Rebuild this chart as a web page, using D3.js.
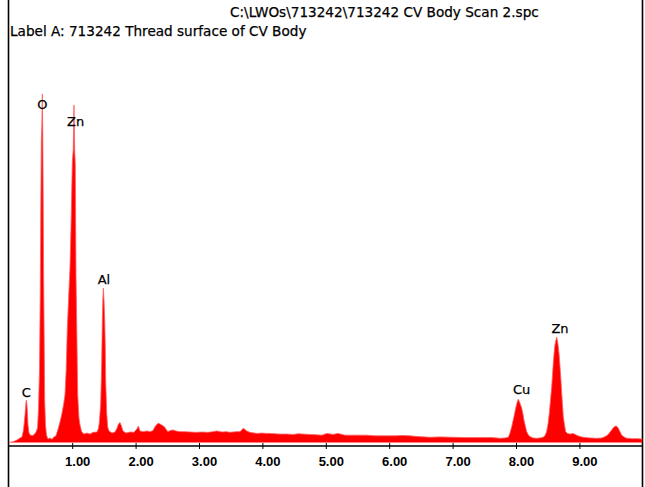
<!DOCTYPE html>
<html>
<head>
<meta charset="utf-8">
<script src="https://cdn.jsdelivr.net/npm/d3@7"></script>
<style>
html,body{margin:0;padding:0;background:#fff;}
svg{display:block;}
</style>
</head>
<body>
<svg id="chart" width="645" height="487"></svg>
<script>
const titleText = "C:\\LWOs\\713242\\713242 CV Body Scan 2.spc";
const labelText = "Label A: 713242 Thread surface of CV Body";

const tickValues = [1, 2, 3, 4, 5, 6, 7, 8, 9];
const tickLabels = ["1.00", "2.00", "3.00", "4.00", "5.00", "6.00", "7.00", "8.00", "9.00"];

// energy (keV)
const energy = [0,0.066,0.129,0.177,0.208,0.232,0.256,0.271,0.279,0.292,0.303,0.319,0.342,0.382,0.405,0.421,
0.429,0.453,0.468,0.484,0.497,0.505,0.513,0.521,0.529,0.536,0.543,0.549,0.557,0.566,0.579,0.595,0.618,0.650,0.681,0.713,0.744,
0.781,0.808,0.834,0.863,0.886,0.905,0.923,0.942,0.965,0.981,1.002,1.016,1.028,1.039,1.049,1.060,1.071,1.087,1.107,1.123,1.150,1.186,1.233,1.281,1.328,
1.391,1.415,1.427,1.450,1.465,1.475,1.483,1.491,1.502,1.513,1.522,1.528,1.544,1.560,1.580,1.628,1.675,1.707,1.730,1.754,1.777,1.801,1.849,1.912,1.975,2.022,2.043,2.069,
2.117,2.180,2.227,2.274,2.306,2.330,2.358,2.385,2.412,2.437,2.464,2.487,2.511,2.543,2.590,2.637,2.700,2.779,2.858,2.964,3.047,3.142,3.221,3.279,3.363,3.426,3.489,3.584,3.647,3.699,3.753,3.804,3.910,3.994,
4.057,4.120,4.199,4.278,4.383,4.483,4.562,4.645,4.751,4.857,4.940,5.019,5.114,5.192,5.303,5.429,5.539,5.650,5.776,5.960,6.091,6.202,6.328,6.454,6.644,6.801,7.006,7.196,7.432,7.621,7.748,7.826,
7.879,7.905,7.932,7.968,8.000,8.020,8.036,8.063,8.090,8.110,8.126,8.147,8.169,8.197,8.221,8.268,8.325,8.378,8.430,
8.457,8.483,8.505,8.525,8.544,8.563,8.576,8.588,8.603,8.615,8.631,8.642,8.655,8.667,8.681,8.694,8.710,8.721,8.734,8.746,8.765,8.784,8.813,8.852,8.899,8.957,9.009,9.061,9.167,9.273,9.356,
9.430,9.467,9.509,9.538,9.573,9.593,9.614,9.640,9.667,9.703,9.746,9.830,9.909,9.993];

// counts (arbitrary units)
const counts = [0,2,7,13,16,36,79,116,121,93,50,27,21,20,24,27,
30,41,93,207,436,679,864,907,996,884,693,487,321,121,50,21,10,13,9,16,19,
41,59,79,107,136,207,327,407,499,613,801,836,964,836,793,479,344,136,70,50,30,24,27,24,29,
30,41,56,113,227,350,407,441,407,350,273,179,84,44,33,27,30,41,53,57,47,33,27,30,29,39,47,33,
31,33,31,34,45,51,55,53,50,47,43,36,31,34,36,33,31,31,30,29,30,29,31,33,30,31,29,31,31,41,33,29,26,27,
26,26,25,24,24,23,25,24,23,22,21,26,23,26,21,21,21,21,19,19,19,20,19,17,15,16,15,14,14,14,12,13,
15,27,45,74,102,116,124,112,98,81,64,47,31,21,17,13,12,13,15,
20,31,53,83,121,159,193,226,259,279,293,301,290,274,250,217,176,141,107,74,50,31,26,24,26,21,17,15,13,12,13,
19,26,36,43,47,46,41,31,21,16,12,11,11,10];

const peakLabels = ["C", "O", "Zn", "Al", "Cu", "Zn"];
const peakEnergy = [0.276, 0.528, 1.055, 1.501, 8.09, 8.694];
const peakCounts = [131, 954, 905, 454, 139, 313];

const svg = d3.select("#chart");
const x = d3.scaleLinear().domain([0, 10]).range([8.8, 642.8]);
const y = d3.scaleLinear().domain([0, 1000]).range([442.5, 92.5]);

// frame
svg.append("line").attr("x1", 8.5).attr("x2", 8.5).attr("y1", 0).attr("y2", 487)
  .attr("stroke", "#000").attr("stroke-width", 1.6);
svg.append("line").attr("x1", 642.5).attr("x2", 642.5).attr("y1", 0).attr("y2", 487)
  .attr("stroke", "#000").attr("stroke-width", 1.6);

// title texts
svg.append("text").attr("x", 230).attr("y", 17)
  .attr("font-family", "DejaVu Sans, sans-serif").attr("font-size", 13.6)
  .attr("fill", "#000").attr("stroke", "#000").attr("stroke-width", 0.25).text(titleText);
svg.append("text").attr("x", 10).attr("y", 36)
  .attr("font-family", "DejaVu Sans, sans-serif").attr("font-size", 13.6)
  .attr("fill", "#000").attr("stroke", "#000").attr("stroke-width", 0.25).text(labelText);

// spectrum
const data = energy.map((e, i) => ({e: e, c: counts[i]}));
const area = d3.area().x(d => x(d.e)).y0(y(0)).y1(d => y(d.c)).curve(d3.curveLinear);
svg.append("path").datum(data).attr("d", area).attr("fill", "#ff0000");
const line = d3.line().x(d => x(d.e)).y(d => y(d.c));
svg.append("path").datum(data).attr("d", line).attr("fill", "none")
  .attr("stroke", "#ff6060").attr("stroke-width", 0.8);

// axis
const axis = d3.axisBottom(x).tickValues(tickValues).tickSize(0).tickFormat((d, i) => tickLabels[i]);
const g = svg.append("g").attr("transform", "translate(0,446)").call(axis);
g.select(".domain").remove();
g.append("line").attr("x1", 8.5).attr("x2", 642.5).attr("y1", 0).attr("y2", 0)
  .attr("stroke", "#000").attr("stroke-width", 1.5);
g.selectAll(".tick").append("line").attr("y1", -3).attr("y2", 3).attr("stroke", "#000").attr("stroke-width", 1);
g.selectAll(".tick text")
  .attr("font-family", "Liberation Sans Narrow, Liberation Sans, Arial, sans-serif")
  .attr("font-weight", "bold").attr("font-size", 13).attr("fill", "#000")
  .attr("dx", 5).attr("dy", 0).attr("y", 20);

// peak labels
svg.selectAll(".plabel").data(peakLabels).enter().append("text")
  .attr("class", "plabel")
  .attr("x", (d, i) => x(peakEnergy[i]))
  .attr("y", (d, i) => y(peakCounts[i]))
  .attr("text-anchor", "middle")
  .attr("font-family", "DejaVu Sans, sans-serif")
  .attr("font-size", 13).attr("fill", "#000").attr("stroke", "#000").attr("stroke-width", 0.25)
  .text(d => d);
</script>
</body>
</html>
